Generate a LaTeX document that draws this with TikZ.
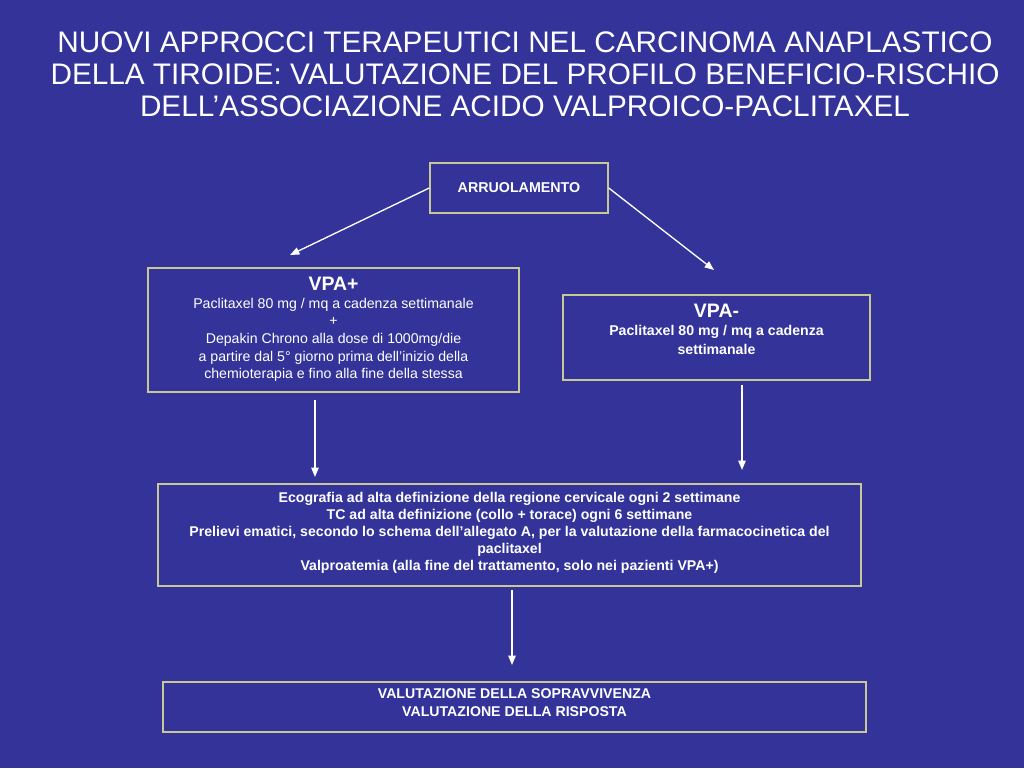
\documentclass[tikz,border=0pt]{standalone}
\usepackage{fontspec}
\setmainfont{Liberation Sans}
\usetikzlibrary{arrows.meta}
\definecolor{bgblue}{HTML}{333399}
\definecolor{boxline}{HTML}{C8C896}
\tikzset{
  box/.style={draw=boxline, line width=1.1pt, rectangle, inner sep=0pt},
  boxtext/.style={text=white, align=center, inner sep=0pt},
  arrowline/.style={draw=white, line width=1pt, -{Triangle[length=7pt,width=5.5pt]}},
}
\begin{document}
\begin{tikzpicture}[x=0.75pt,y=-0.75pt]
\fill[bgblue] (0,0) rectangle (1024,768);
\useasboundingbox (0,0) rectangle (1024,768);

\node[text=white, align=center, font=\fontsize{22.3}{24}\selectfont] (title) at (525,74.5)
  {NUOVI APPROCCI TERAPEUTICI NEL CARCINOMA ANAPLASTICO\\
   DELLA TIROIDE: VALUTAZIONE DEL PROFILO BENEFICIO-RISCHIO\\
   DELL’ASSOCIAZIONE ACIDO VALPROICO-PACLITAXEL};

% boxes
\node[box, minimum width=178*0.75pt, minimum height=50*0.75pt] (arr) at (519,188) {};
\node[box, minimum width=371*0.75pt, minimum height=124*0.75pt] (vpap) at (333.5,330) {};
\node[box, minimum width=307*0.75pt, minimum height=85*0.75pt] (vpam) at (716.5,337.5) {};
\node[box, minimum width=703*0.75pt, minimum height=102*0.75pt] (mid) at (509.5,535) {};
\node[box, minimum width=703*0.75pt, minimum height=50*0.75pt] (bot) at (514.5,707) {};

% texts
\node[boxtext, font=\bfseries\fontsize{10.7}{13}\selectfont] (arrt) at (arr.center) {ARRUOLAMENTO};

\node[boxtext, font=\fontsize{10.6}{13.2}\selectfont] (vpapt) at (333.5,329.5)
  {{\bfseries\fontsize{14.6}{14}\selectfont VPA+}\\
   Paclitaxel 80 mg / mq a cadenza settimanale\\
   +\\
   Depakin Chrono alla dose di 1000mg/die\\
   a partire dal 5° giorno prima dell’inizio della\\
   chemioterapia e fino alla fine della stessa};

\node[boxtext, font=\bfseries\fontsize{10.6}{13.8}\selectfont] (vpamt) at (716.5,329)
  {{\fontsize{14.6}{15}\selectfont VPA-}\\
   Paclitaxel 80 mg / mq a cadenza\\
   settimanale};

\node[boxtext, font=\bfseries\fontsize{10.6}{12.75}\selectfont] (midt) at (509.5,533)
  {Ecografia ad alta definizione della regione cervicale ogni 2 settimane\\
   TC ad alta definizione (collo + torace) ogni 6 settimane\\
   Prelievi ematici, secondo lo schema dell’allegato A, per la valutazione della farmacocinetica del\\
   paclitaxel\\
   Valproatemia (alla fine del trattamento, solo nei pazienti VPA+)};

\node[boxtext, font=\bfseries\fontsize{10.6}{13.5}\selectfont] (bott) at (514.5,703)
  {VALUTAZIONE DELLA SOPRAVVIVENZA\\
   VALUTAZIONE DELLA RISPOSTA};

% connectors
\coordinate (c1) at (290,255);
\coordinate (c2) at (714,270);
\coordinate (a3s) at (315,400);
\coordinate (a3e) at (315,477);
\coordinate (a4s) at (742,385);
\coordinate (a4e) at (742,470);
\coordinate (a5s) at (512,590);
\coordinate (a5e) at (512,665);

\draw[arrowline] (arr.west) -- (c1);
\draw[arrowline] (arr.east) -- (c2);
\draw[arrowline] (a3s) -- (a3e);
\draw[arrowline] (a4s) -- (a4e);
\draw[arrowline] (a5s) -- (a5e);
\end{tikzpicture}
\end{document}
